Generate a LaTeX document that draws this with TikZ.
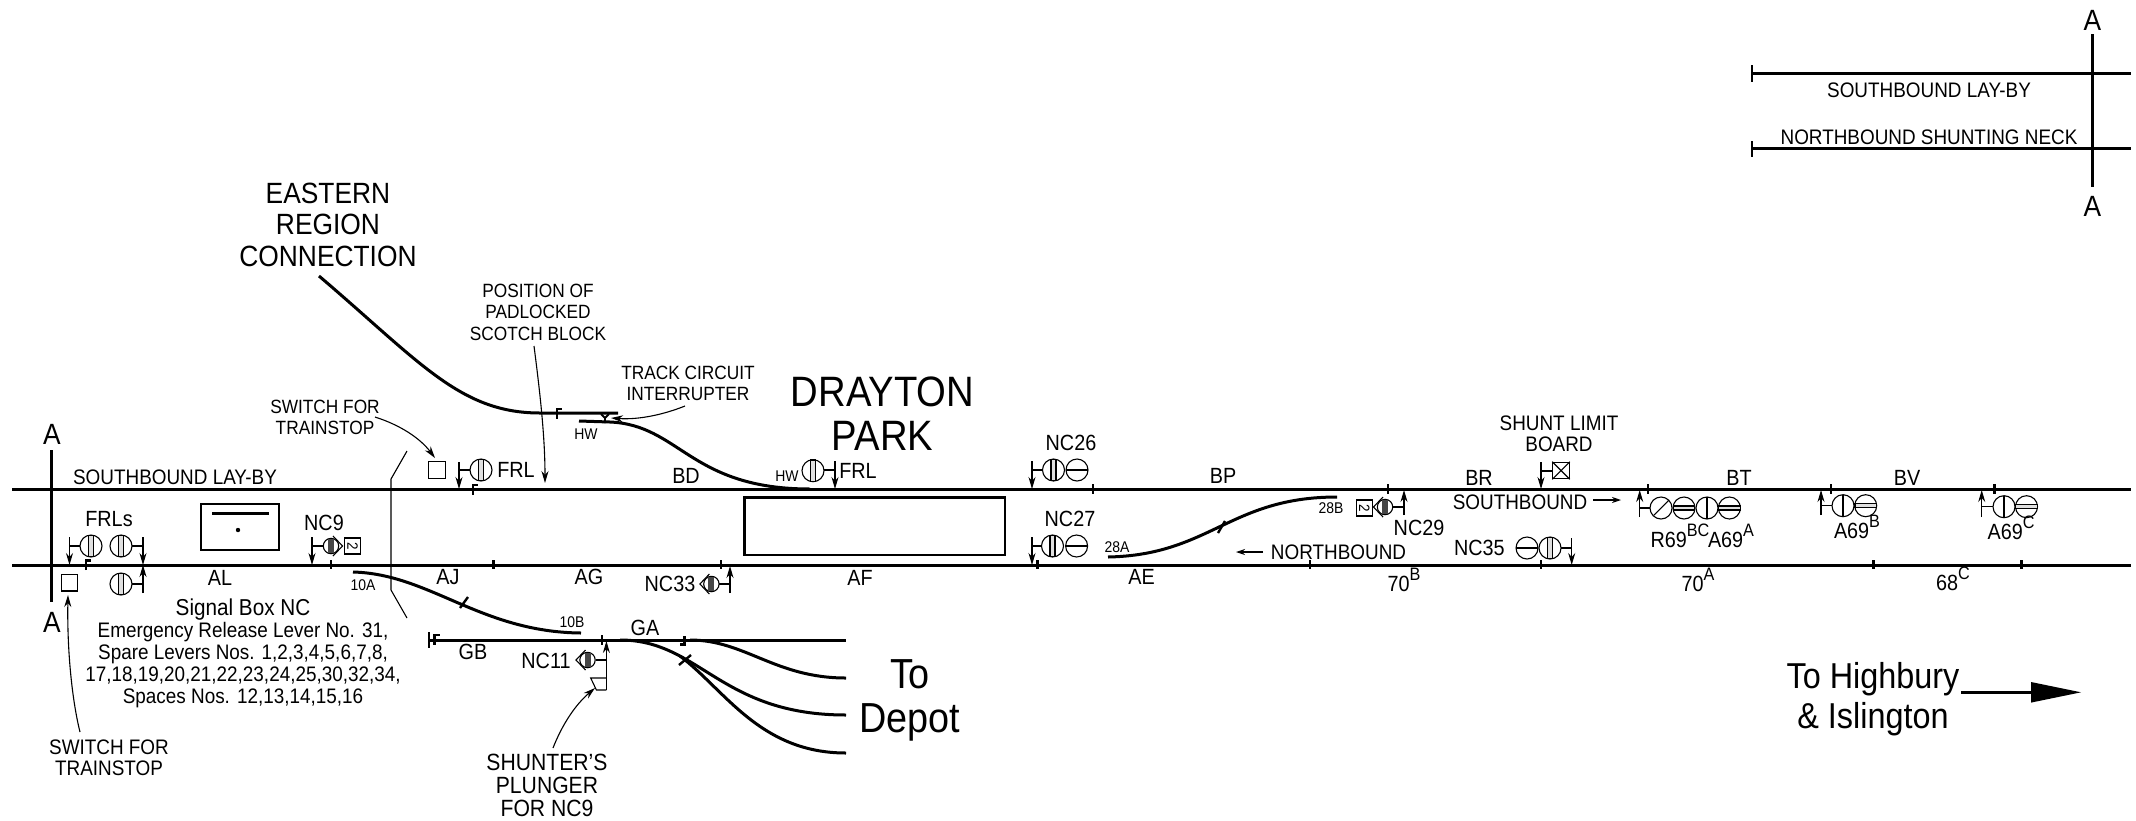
\documentclass[tikz,border=0pt]{standalone}
\usepackage{fontspec}
\setmainfont{Liberation Sans}[FakeStretch=0.9]
\usetikzlibrary{arrows.meta}
\newcommand{\txtup}[1]{\raisebox{0.5em}{\fontsize{18}{18}\selectfont #1}}
\tikzset{
	track/.style={line width=3pt},
	stopmark/.style={line width=2.4pt},
	thinline/.style={line width=1.1pt},
	lead/.style={line width=1.1pt,->},
	lab/.style={inner sep=0pt,align=center,font=\fontsize{21}{21.5}\selectfont},
	smalllab/.style={inner sep=0pt,align=center,font=\fontsize{19.2}{21.5}\selectfont},
	plunglab/.style={inner sep=0pt,align=center,font=\fontsize{23.5}{23}\selectfont},
	tinylab/.style={inner sep=0pt,font=\fontsize{15.5}{16}\selectfont},
	boxlab/.style={inner sep=0pt,align=center,font=\fontsize{23}{22}\selectfont},
	numlab/.style={inner sep=0pt,font=\fontsize{22}{24}\selectfont},
	biglab/.style={inner sep=0pt,align=center,font=\fontsize{29.3}{31.5}\selectfont},
	hugelab/.style={inner sep=0pt,align=center,font=\fontsize{42.5}{44}\selectfont},
	destlab/.style={inner sep=0pt,align=center,font=\fontsize{36}{40}\selectfont},
	depotlab/.style={inner sep=0pt,align=center,font=\fontsize{42}{44}\selectfont},
	swbox/.style={draw,line width=1.1pt,inner sep=0pt,minimum size=16.5pt},
	twobox/.style={draw,line width=1.1pt,inner sep=0pt,minimum size=16pt,rotate=-90,font=\fontsize{15}{15}\selectfont}
}
\begin{document}
\begin{tikzpicture}[x=1pt,y=-1pt,>={Stealth[length=12pt,width=7pt]}]
	\useasboundingbox (0,0) rectangle (2136,820);
	% running lines
	\draw[track] (12,489) -- (2131,489);
	\draw[track] (12,565) -- (2131,565);
	\draw[track] (51,450) -- (51,602);
	\node[biglab] (secAup) at (52,434) {A};
	\node[biglab] (secAdown) at (52,622) {A};
	\draw[thinline] (407,451) -- (391,479) -- (391,590) -- (407,618);
	% section A-A
	\draw[track] (1752,73) -- (2131,73);
	\draw[track] (1752,148.7) -- (2131,148.7);
	\draw[stopmark] (1752,65) -- (1752,82) (1752,141) -- (1752,157);
	\draw[track] (2092,34) -- (2092,187);
	\node[biglab] (secBup) at (2092.5,20) {A};
	\node[biglab] (secBdown) at (2092.5,206) {A};
	\node[lab] (laybyB) at (1929,90) {SOUTHBOUND LAY-BY};
	\node[lab] (neck) at (1929,137) {NORTHBOUND SHUNTING NECK};
	% branches
	\draw[track] (319,276) .. controls (420,362) and (460,413) .. (540,413) -- (618,413);
	\draw[track] (579,421) -- (610,422) .. controls (680,425) and (690,489) .. (810,489);
	\draw[track] (353,572) .. controls (430,574) and (480,632) .. (581,633);
	\draw[track] (1108,557) .. controls (1210,555) and (1230,497) .. (1337,497);
	\draw[track] (429,640) -- (846,640);
	\draw[track] (690,640) .. controls (745,640) and (775,678) .. (846,678);
	\draw[track] (620,640) .. controls (700,640) and (720,715) .. (846,715);
	\draw[track] (680,656) .. controls (725,690) and (760,753) .. (846,753);
	\draw[stopmark] (429,632) -- (429,648);
	% platforms and box
	\draw[line width=2.5pt] (201,504) rectangle (279,550);
	\draw[line width=2.5pt] (212,513.7) -- (269,513.7);
	\fill (238,530) circle (2.2);
	\draw[line width=2.5pt] (744.6,497.7) rectangle (1005,555);
	% joints
	\foreach \i in {1093,1388,1648,1830.8,1994.6}{
		\draw[stopmark] (\i,484) -- (\i,493.5);}
	\foreach \i in {331,493.6,720.7,1037.4,1310,1541,1873.4,2021.4}{
		\draw[stopmark] (\i,560) -- (\i,569);}
	\draw[stopmark] (602,635) -- (602,645);
	\draw[stopmark] (460,608) -- (468,597);
	\draw[stopmark] (1218,533) -- (1225,521);
	\draw[stopmark] (679,665) -- (691,655);
	% trainstops
	\foreach \x/\y in {85.7/560.5,473/485,557/409,434.6/635}{
		\draw[stopmark] (\x,\y+9.5) -- (\x,\y) -- (\x+5,\y);}
	\draw[stopmark] (684.6,636) -- (684.6,644.5) -- (679.6,644.5);
	% track circuit interrupter
	\draw[stopmark,line width=1.8pt] (601,414) -- (605,418) -- (605,423) (609,414) -- (605,418);
	% signal posts
	\foreach \x/\ya/\yb in {69.5/537/565,143/537/565,312/537/565,459/462/489,835/461/489,1032/461/489,1032/537/565,1541/462/489,1571.7/538/565,143/593/565,730/593/566,606.4/690/641,1404/515/490,1639.7/517/490,1821/515/490,1981.7/517/490}{
		\draw[thinline,->] (\x,\ya) -- (\x,\yb);}
	\foreach \xa/\xb/\y in {69.5/80/546,132/143/546,132/143/584,312/323.5/546,459/470/470,824/835/470,1032/1043/470,1032/1042/546,1541/1553/471,1561/1571.7/548,719/730/584,595.7/606.4/660,1393/1404/507,1639.7/1650/508,1821/1832/505.7,1981.7/1993/506.7}{
		\draw[thinline] (\xa,\y) -- (\xb,\y);}
	% signal heads
	\foreach \x/\y in {91/546,121/546,121/584,481/470,813/470.7,1053.5/470,1052.5/546,1550/548}{
		\draw[thinline,fill=white] (\x,\y) circle (11);
		\draw[thinline,fill=gray!25] (\x-2.5,\y-10.7) rectangle (\x+2.5,\y+10.7);}
	\foreach \x/\y in {1077/470,1076.6/546,1527/548}{
		\draw[thinline] (\x,\y) circle (11);
		\draw[thinline] (\x-11,\y) -- (\x+11,\y);}
	\foreach \x/\y in {1707/508,1843/505.7,2004/506.7}{
		\draw[thinline] (\x,\y) circle (11);
		\draw[thinline] (\x,\y-11) -- (\x,\y+11);}
	\foreach \x/\y in {1684/508,1729.4/508,1865.7/505.7,2026.5/506.7}{
		\draw[thinline] (\x,\y) circle (11);
		\draw[thinline,fill=gray!25] (\x-10.7,\y-2) rectangle (\x+10.7,\y+2);}
	\draw[thinline] (1661,508) circle (11) (1654,515) -- (1668,501);
	% shunt signals, chevron to the right or left
	\foreach \x/\y/\s in {331/546/1,711.4/584/-1,587.5/660/-1,1385/507/-1}{
		\draw[thinline] (\x,\y) circle (7.7);
		\fill[gray!55!black] (\x-3,\y-7.3) rectangle (\x+3,\y+7.3);
		\draw[thinline] (\x+\s*2,\y-10) -- (\x+\s*11.5,\y) -- (\x+\s*2,\y+10);}
	\node[twobox] (numA) at (352.5,546) {2};
	\node[twobox] (numB) at (1364.3,508) {2};
	% plunger
	\draw[thinline] (606.4,678) -- (590.7,678) -- (596.4,690) -- (606.4,690);
	% shunt limit board
	\node[swbox] (board) at (1561,470.5) {};
	\draw[thinline] (board.north west) -- (board.south east) (board.north east) -- (board.south west);
	% trainstop switches
	\node[swbox] (swA) at (69.3,582.7) {};
	\node[swbox] (swB) at (437,470) {};
	% descriptions
	\node[lab] (laybyA) at (175,477) {SOUTHBOUND LAY-BY};
	\node[lab] (swAtxt) at (109,758) {SWITCH FOR\\TRAINSTOP};
	\node[smalllab] (swBtxt) at (325,417.5) {SWITCH FOR\\TRAINSTOP};
	\node[smalllab] (scotch) at (538,312) {POSITION OF\\PADLOCKED\\SCOTCH BLOCK};
	\node[smalllab] (interrupter) at (688,383.5) {TRACK CIRCUIT\\INTERRUPTER};
	\node[plunglab] (plunger) at (547,785) {SHUNTER'S\\PLUNGER\\FOR NC9};
	\node[lab] (limit) at (1559,434) {SHUNT LIMIT\\BOARD};
	\node[boxlab] (boxtitle) at (243,610) {Signal Box NC};
	\node[lab] (levers) at (243,665) {Emergency Release Lever No. 31,\\[0.5pt]Spare Levers Nos. 1,2,3,4,5,6,7,8,\\[0.5pt]17,18,19,20,21,22,23,24,25,30,32,34,\\[0.5pt]Spaces Nos. 12,13,14,15,16};
	\node[biglab] (eastern) at (328,224.5) {EASTERN\\REGION\\CONNECTION};
	\node[hugelab] (station) at (882.6,414) {DRAYTON\\PARK};
	\node[depotlab] (depot) at (910,700) {To\\Depot};
	\node[destlab] (highbury) at (1873,699) {To Highbury\\\& Islington};
	\coordinate (arrowend) at (2081,692.3);
	\draw[line width=2.4pt] (1961,692.3) -- (2032,692.3);
	\fill (2031,682) -- (arrowend) -- (2031,702.6) -- cycle;
	% leaders
	\coordinate (swAfrom) at (80,732);
	\coordinate (swBfrom) at (375,417);
	\coordinate (scotchfrom) at (534,346);
	\coordinate (scotchto) at (545,483);
	\coordinate (interfrom) at (685,406);
	\coordinate (interto) at (611,418);
	\coordinate (plungerfrom) at (553,748);
	\coordinate (plungerto) at (595,688);
	\draw[lead] (swAfrom) .. controls (72,700) and (67,650) .. (68,595);
	\draw[lead] (swBfrom) .. controls (400,425) and (420,438) .. (435,458);
	\draw[lead] (scotchfrom) .. controls (541,400) and (545,440) .. (scotchto);
	\draw[lead] (interfrom) .. controls (665,414) and (640,420) .. (interto);
	\draw[lead] (plungerfrom) .. controls (562,725) and (575,705) .. (plungerto);
	\coordinate (northA) at (1263,552);
	\coordinate (northB) at (1236,552);
	\draw[thinline,->,>={Stealth[length=9pt,width=6pt]}] (northA) -- (northB);
	\coordinate (southA) at (1593,500);
	\coordinate (southB) at (1621,500);
	\draw[thinline,->,>={Stealth[length=9pt,width=6pt]}] (southA) -- (southB);
	\node[lab] (northbound) at (1338.5,552) {NORTHBOUND};
	\node[lab] (southbound) at (1520,502) {SOUTHBOUND};
	% track circuits
	\foreach \x/\y/\t in {220/578/AL,448/577/AJ,589/577/AG,860/578/AF,686/476/BD,473/652/GB,645/628/GA,1141.5/577/AE,1223/476/BP,1479/478/BR,1739/478/BT,1907/478/BV}{
		\node[numlab] (tc\t) at (\x,\y) {\t};}
	\node[numlab] (tcB) at (1404,580) {70\txtup{B}};
	\node[numlab] (tcA) at (1698,580) {70\txtup{A}};
	\node[numlab] (tcC) at (1953,579) {68\txtup{C}};
	% signal numbers
	\node[numlab] (frls) at (109,519) {FRLs};
	\node[numlab] (frlA) at (516,470) {FRL};
	\node[numlab] (frlB) at (858,470.7) {FRL};
	\foreach \x/\y/\t in {324/523/NC9,670/584/NC33,546/661/NC11,1071/443/NC26,1070/519/NC27,1419/528/NC29,1479.4/548/NC35}{
		\node[numlab] (sig\t) at (\x,\y) {\t};}
	\node[numlab] (sigR) at (1680,536) {R69\txtup{BC}};
	\node[numlab] (sigAa) at (1731,536) {A69\txtup{A}};
	\node[numlab] (sigAb) at (1857,527) {A69\txtup{B}};
	\node[numlab] (sigAc) at (2011,528) {A69\txtup{C}};
	% points ends
	\foreach \x/\y/\t in {363/585/10A,572/622/10B,586/434/HW,787/476/HW,1117/547/28A,1331/508/28B}{
		\node[tinylab] at (\x,\y) {\t};}
\end{tikzpicture}
\end{document}
